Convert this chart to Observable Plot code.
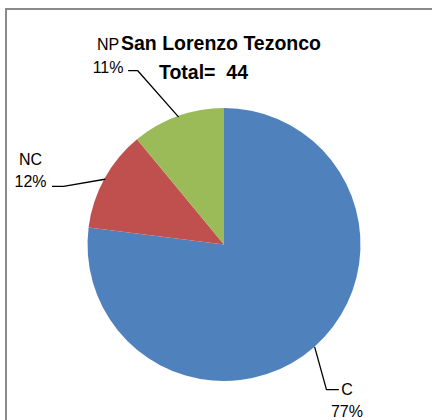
<!DOCTYPE html>
<html><head><meta charset="utf-8">
<script src="https://cdn.jsdelivr.net/npm/d3@7"></script>
<script src="https://cdn.jsdelivr.net/npm/@observablehq/plot@0.6"></script>
<style>
html,body{margin:0;padding:0;background:#fff;overflow:hidden}
#wrap{position:relative;width:432px;height:420px;overflow:hidden}
#border{position:absolute;left:5px;top:8px;width:500px;height:500px;border:2px solid #8a8a8a;box-sizing:border-box;pointer-events:none}
#chart{position:absolute;left:0;top:0}
</style></head><body>
<div id="wrap"><div id="chart"></div><div id="border"></div></div>
<script>
// Data
const categories = ["C", "NC", "NP"];
const percents = [77, 12, 11];
const colors = ["#4F81BD", "#C0504D", "#9BBB59"];
const titleLines = ["San Lorenzo Tezonco", "Total=  44"];

// Layout (unit-circle coordinates) for leader lines and labels
const labelElbow = {C: [0.747, -1.059], NC: [-1.179, 0.429], NP: [-0.637, 1.278]};
const labelEnd = {C: [0.835, -1.059], NC: [-1.260, 0.429], NP: [-0.703, 1.278]};
const labelPos = {C: [0.897, -1.128], NC: [-1.421, 0.558], NP: [-0.853, 1.396]};

const data = categories.map((c, i) => ({category: c, value: percents[i]}));
const arcs = d3.pie().sort(null).value(d => d.value)(data);

const leaders = [];
arcs.forEach(a => {
  const c = a.data.category;
  const mid = (a.startAngle + a.endAngle) / 2;
  leaders.push({category: c, x: Math.sin(mid), y: Math.cos(mid)});
  leaders.push({category: c, x: labelElbow[c][0], y: labelElbow[c][1]});
  leaders.push({category: c, x: labelEnd[c][0], y: labelEnd[c][1]});
});
const labels = data.map(d => ({
  category: d.category,
  text: `${d.category}\n${d.value}%`,
  x: labelPos[d.category][0],
  y: labelPos[d.category][1]
}));

const cx = 224, cy = 244.5, R = 136.5;

const pieMark = (index, scales, values, dimensions) => {
  const g = d3.create("svg:g");
  const x0 = scales.x(0), y0 = scales.y(0);
  const r = scales.x(1) - scales.x(0);
  const arcGen = d3.arc().innerRadius(0).outerRadius(r);
  g.attr("transform", `translate(${x0},${y0})`);
  g.selectAll("path").data(arcs).join("path")
    .attr("d", arcGen)
    .attr("fill", (a) => scales.color ? scales.color(a.data.category) : colors[a.index]);
  return g.node();
};

const chart = Plot.plot({
  width: 432,
  height: 420,
  margin: 0,
  style: {fontFamily: "'Liberation Sans', Arial, sans-serif", fontSize: "16px", background: "transparent", color: "#000"},
  x: {domain: [-1, 1], range: [cx - R, cx + R], axis: null},
  y: {domain: [-1, 1], range: [cy + R, cy - R], axis: null},
  color: {domain: categories, range: colors},
  marks: [
    Plot.dot(data, {x: 0, y: 0, r: 0, fill: "category"}),
    pieMark,
    Plot.line(leaders, {x: "x", y: "y", z: "category", stroke: "#000", strokeWidth: 1.3}),
    Plot.text(labels, {x: "x", y: "y", text: "text", fill: "#000", fontSize: 16, lineHeight: 1.4, textAnchor: "middle", lineAnchor: "middle"}),
    Plot.text([titleLines[0]], {frameAnchor: "top", lineAnchor: "top", dy: 36, dx: 4.5, fontSize: 19.5, fontWeight: "bold", fill: "#000"}),
    Plot.text([titleLines[1]], {frameAnchor: "top", lineAnchor: "top", dy: 65, dx: -13, fontSize: 19.5, fontWeight: "bold", fill: "#000"})
  ]
});
document.getElementById("chart").appendChild(chart);
</script>
</body></html>
